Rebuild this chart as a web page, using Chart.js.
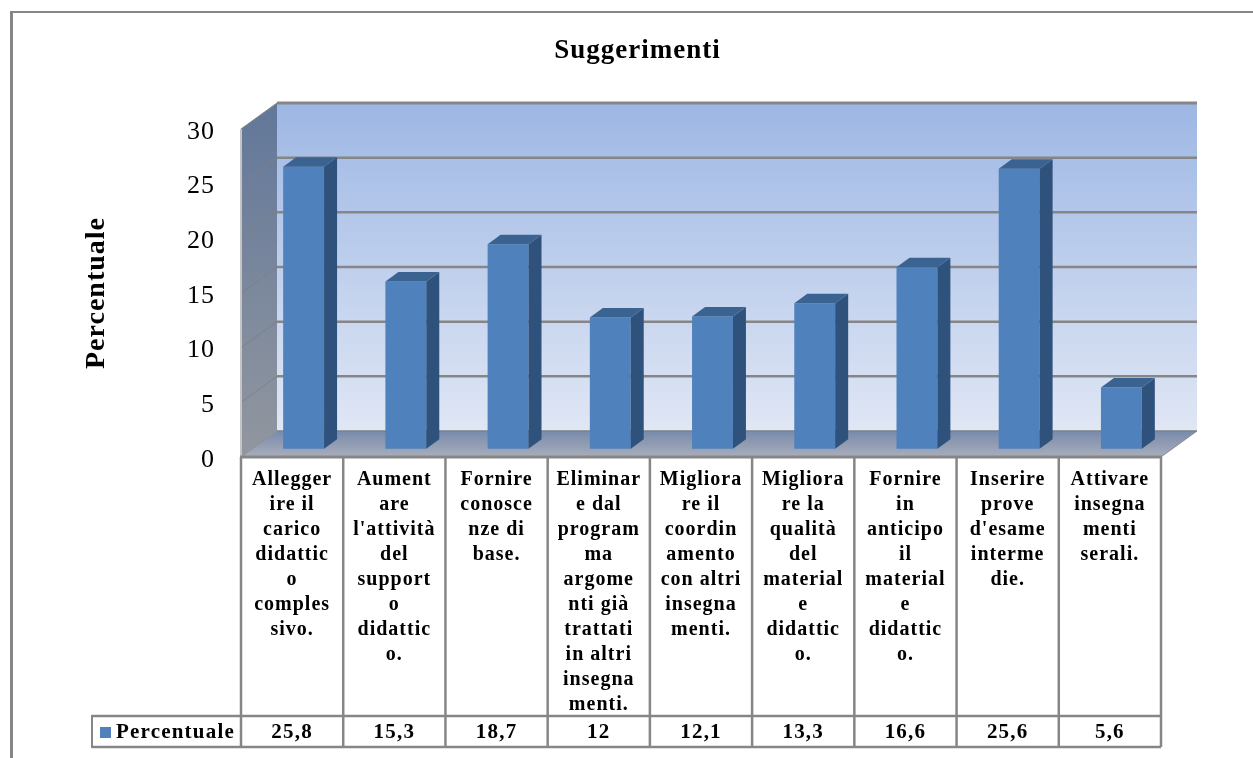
<!DOCTYPE html>
<html>
<head>
<meta charset="utf-8">
<style>
    html, body { margin: 0; padding: 0; background: #fff; }
    canvas { display: block; }
</style>
<script src="https://cdn.jsdelivr.net/npm/chart.js@4/dist/chart.umd.min.js"></script>
</head>
<body>
<canvas id="myChart" width="1253" height="758"></canvas>
<script>
const titleText = "Suggerimenti";
const seriesName = "Percentuale";
const categories = [
    ["Allegger", "ire il", "carico", "didattic", "o", "comples", "sivo."],
    ["Aument", "are", "l'attività", "del", "support", "o", "didattic", "o."],
    ["Fornire", "conosce", "nze di", "base."],
    ["Eliminar", "e dal", "program", "ma", "argome", "nti già", "trattati", "in altri", "insegna", "menti."],
    ["Migliora", "re il", "coordin", "amento", "con altri", "insegna", "menti."],
    ["Migliora", "re la", "qualità", "del", "material", "e", "didattic", "o."],
    ["Fornire", "in", "anticipo", "il", "material", "e", "didattic", "o."],
    ["Inserire", "prove", "d'esame", "interme", "die."],
    ["Attivare", "insegna", "menti", "serali."],
];
const values = [25.8, 15.3, 18.7, 12, 12.1, 13.3, 16.6, 25.6, 5.6];
const yMax = 30;
const yStep = 5;

const serif = "'Liberation Serif', serif";
const lineColor = "#868686";
const barFront = "#4f81bd";
const barSide = "#2f527c";
const barTop = "#3b6391";

// depth of the box and of the bars, the front plane is the chart area
const wallDx = 36;
const wallDy = -26;
const barDx = 13;
const barDy = -9.5;
const barShiftX = (wallDx - barDx) / 2;
const barShiftY = (wallDy - barDy) / 2;

function poly(ctx, pts, fill) {
    ctx.beginPath();
    ctx.moveTo(pts[0][0], pts[0][1]);
    for (let i = 1; i < pts.length; i++) ctx.lineTo(pts[i][0], pts[i][1]);
    ctx.closePath();
    ctx.fillStyle = fill;
    ctx.fill();
}

function line(ctx, x1, y1, x2, y2, color, width) {
    ctx.beginPath();
    ctx.moveTo(x1, y1);
    ctx.lineTo(x2, y2);
    ctx.strokeStyle = color;
    ctx.lineWidth = width;
    ctx.stroke();
}

function vGrad(ctx, y1, y2, c1, c2) {
    const g = ctx.createLinearGradient(0, y1, 0, y2);
    g.addColorStop(0, c1);
    g.addColorStop(1, c2);
    return g;
}

const spacingPlugin = {
    id: "spacing",
    beforeDraw(chart) {
        chart.ctx.letterSpacing = "1px";
    },
};

const framePlugin = {
    id: "frame",
    beforeDraw(chart) {
        const ctx = chart.ctx;
        line(ctx, 11.5, 12, 11.5, 758, lineColor, 3);
        line(ctx, 10, 12, 1253, 12, lineColor, 2);
    },
};

// walls, floor and gridlines of the 3d box
const boxPlugin = {
    id: "box",
    beforeDatasetsDraw(chart) {
        const ctx = chart.ctx;
        const a = chart.chartArea;
        const y = chart.scales.y;
        const backL = a.left + wallDx;
        const backR = a.right + wallDx;
        const backT = a.top + wallDy;
        const backB = a.bottom + wallDy;
        poly(ctx, [[backL, backT], [backR, backT], [backR, backB], [backL, backB]],
            vGrad(ctx, backT, backB, "#9db7e4", "#e0e7f5"));
        poly(ctx, [[a.left, a.top], [backL, backT], [backL, backB], [a.left, a.bottom]],
            vGrad(ctx, backT, a.bottom, "#62779a", "#92979f"));
        poly(ctx, [[a.left, a.bottom], [backL, backB], [backR, backB], [a.right, a.bottom]],
            vGrad(ctx, backB, a.bottom, "#788aab", "#a9aebb"));
        y.ticks.forEach((t) => {
            const py = y.getPixelForValue(t.value);
            if (t.value > 0) {
                line(ctx, backL, py + wallDy, backR, py + wallDy, lineColor, t.value === yMax ? 3 : 2.5);
                line(ctx, a.left, py, backL, py + wallDy, "#7f8082", 1);
            }
        });
        line(ctx, backL, backB, backR, backB, "#7c7f88", 1.5);
        line(ctx, a.left, a.top, a.left, a.bottom, "#c4c4c4", 2);
        line(ctx, a.left, a.bottom, backL, backB, "#8a8c90", 1);
        line(ctx, a.right, a.bottom, backR, backB, "#8a8c90", 1);
    },
    afterDatasetsDraw(chart) {
        const a = chart.chartArea;
        line(chart.ctx, a.left - 1, a.bottom, a.right + 1, a.bottom, lineColor, 3);
    },
};

// bars sit in the middle of the depth, side and top faces come from the bar elements
const bar3dPlugin = {
    id: "bar3d",
    beforeDatasetDraw(chart) {
        chart.ctx.save();
        chart.ctx.translate(barShiftX, barShiftY);
    },
    afterDatasetDraw(chart, args) {
        const ctx = chart.ctx;
        args.meta.data.forEach((el) => {
            const l = el.x - el.width / 2;
            const r = el.x + el.width / 2;
            poly(ctx, [[r, el.y], [r + barDx, el.y + barDy], [r + barDx, el.base + barDy], [r, el.base]], barSide);
            poly(ctx, [[l, el.y], [l + barDx, el.y + barDy], [r + barDx, el.y + barDy], [r, el.y]], barTop);
        });
        ctx.restore();
    },
};

// data table under the plot
const tablePlugin = {
    id: "table",
    afterDraw(chart) {
        const ctx = chart.ctx;
        const a = chart.chartArea;
        const x = chart.scales.x;
        const rowTop = 716;
        const rowBottom = 747;
        const keyLeft = 92;
        const band = (a.right - a.left) / categories.length;
        for (let i = 0; i <= categories.length; i++) {
            const px = i === 0 ? a.left : x.getPixelForValue(i - 1) + band / 2;
            line(ctx, px, a.bottom, px, rowBottom, lineColor, 2.5);
        }
        line(ctx, keyLeft, rowTop, a.right, rowTop, lineColor, 2.5);
        line(ctx, keyLeft, rowBottom, a.right, rowBottom, lineColor, 2.5);
        line(ctx, keyLeft, rowTop - 1, keyLeft, rowBottom + 1, lineColor, 2);

        ctx.save();
        ctx.fillStyle = barFront;
        ctx.fillRect(100, 727, 11, 11);
        ctx.fillStyle = "#000";
        ctx.font = "bold 21px " + serif;
        ctx.textBaseline = "middle";
        ctx.letterSpacing = "1.2px";
        ctx.textAlign = "left";
        ctx.fillText(seriesName, 116, (rowTop + rowBottom) / 2 + 1);
        ctx.textAlign = "center";
        values.forEach((v, i) => {
            ctx.fillText(String(v).replace(".", ","), x.getPixelForValue(i), (rowTop + rowBottom) / 2 + 1);
        });
        ctx.restore();
    },
};

new Chart(document.getElementById("myChart"), {
    type: "bar",
    data: {
        labels: categories,
        datasets: [
            {
                label: seriesName,
                data: values,
                backgroundColor: barFront,
                borderWidth: 0,
                barPercentage: 0.4,
                categoryPercentage: 1,
                clip: false,
            },
        ],
    },
    plugins: [spacingPlugin, framePlugin, boxPlugin, bar3dPlugin, tablePlugin],
    options: {
        responsive: false,
        animation: false,
        layout: { padding: { left: 22, right: 0, top: 0, bottom: 0 } },
        plugins: {
            legend: { display: false },
            tooltip: { enabled: false },
            title: {
                display: true,
                text: titleText,
                color: "#000",
                font: { family: serif, size: 27, weight: "bold", lineHeight: 1.2 },
                padding: { top: 35, bottom: 61.6 },
            },
        },
        scales: {
            x: {
                grid: { display: false, drawTicks: false },
                border: { display: false },
                afterFit: (s) => { s.height = 301; },
                ticks: {
                    color: "#000",
                    font: { family: serif, size: 20, weight: "bold", lineHeight: "25px" },
                    padding: 10,
                    autoSkip: false,
                    maxRotation: 0,
                    minRotation: 0,
                },
            },
            y: {
                min: 0,
                max: yMax,
                grid: { display: false, drawTicks: false },
                border: { display: false },
                afterFit: (s) => { s.width = 219; },
                title: {
                    display: true,
                    text: seriesName,
                    color: "#000",
                    font: { family: serif, size: 28, weight: "bold", lineHeight: 1.2 },
                    padding: { top: 58, bottom: 0 },
                },
                ticks: {
                    stepSize: yStep,
                    color: "#000",
                    font: { family: serif, size: 26 },
                    padding: 26,
                    labelOffset: 3,
                },
            },
            // empty axis, keeps the room right of the plot so the title stays centred on the page
            y2: {
                position: "right",
                min: 0,
                max: yMax,
                grid: { display: false, drawTicks: false },
                border: { display: false },
                ticks: { display: false },
                afterFit: (s) => { s.width = 92; },
            },
        },
    },
});
</script>
</body>
</html>
